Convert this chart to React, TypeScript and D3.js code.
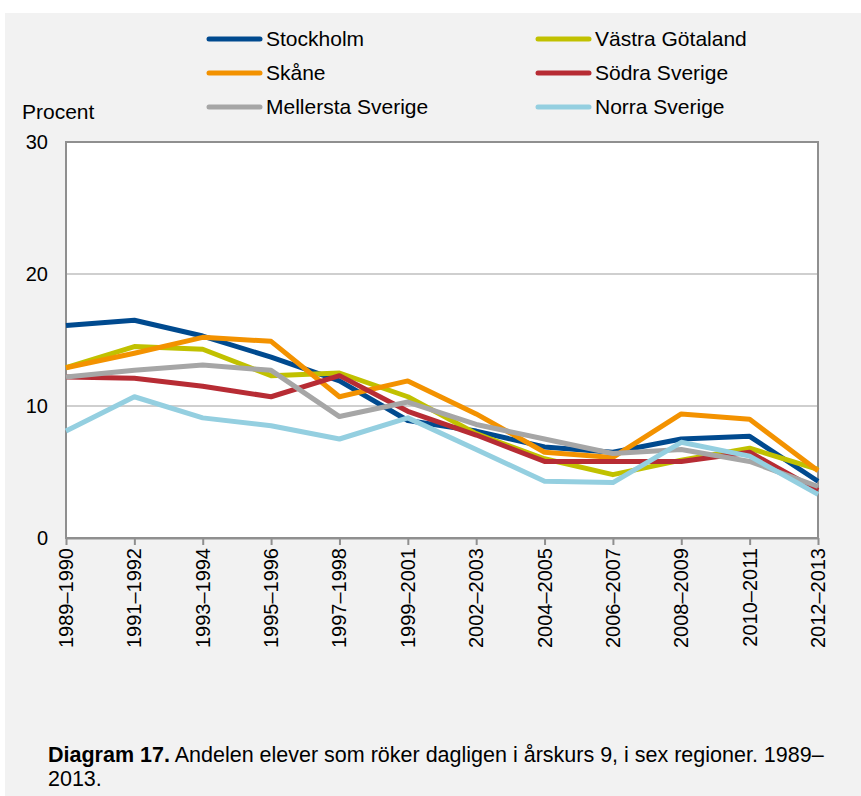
import React, { useEffect, useRef } from "react";
import * as d3 from "d3";

const periods = [
  "1989–1990", "1991–1992", "1993–1994", "1995–1996", "1997–1998", "1999–2001",
  "2002–2003", "2004–2005", "2006–2007", "2008–2009", "2010–2011", "2012–2013",
];

const regions = ["Stockholm", "Västra Götaland", "Skåne", "Södra Sverige", "Mellersta Sverige", "Norra Sverige"];
const colors = ["#004a8f", "#c1c100", "#f39200", "#b72c34", "#a6a6a6", "#94cfe0"];

const stockholm = [16.1, 16.5, 15.3, 13.7, 11.9, 8.9, 8.1, 6.9, 6.5, 7.5, 7.7, 4.3];
const vastraGotaland = [12.9, 14.5, 14.3, 12.3, 12.5, 10.7, 7.9, 6.0, 4.8, 5.9, 6.8, 5.2];
const skane = [12.9, 14.0, 15.2, 14.9, 10.7, 11.9, 9.4, 6.5, 6.1, 9.4, 9.0, 5.1];
const sodraSverige = [12.2, 12.1, 11.5, 10.7, 12.3, 9.6, 7.8, 5.8, 5.8, 5.8, 6.5, 3.6];
const mellerstaSverige = [12.2, 12.7, 13.1, 12.7, 9.2, 10.3, 8.6, 7.5, 6.4, 6.7, 5.8, 3.9];
const norraSverige = [8.1, 10.7, 9.1, 8.5, 7.5, 9.1, 6.7, 4.3, 4.2, 7.25, 6.2, 3.3];

const yTicks = [0, 10, 20, 30];

const FONT = "Arial, 'Liberation Sans', sans-serif";

export default function App() {
  const ref = useRef<SVGSVGElement>(null);

  useEffect(() => {
    const width = 861;
    const height = 796;
    const margin = { top: 142, right: 43, bottom: 258, left: 66 };
    const innerWidth = width - margin.left - margin.right;
    const innerHeight = height - margin.top - margin.bottom;

    const svg = d3.select(ref.current);
    svg.selectAll("*").remove();

    // background panel
    svg.append("rect")
      .attr("x", 5).attr("y", 13)
      .attr("width", width - 5).attr("height", height - 13)
      .attr("fill", "#f2f2f2");

    const series = [stockholm, vastraGotaland, skane, sodraSverige, mellerstaSverige, norraSverige];

    const xScale = d3.scalePoint<string>().domain(periods).range([0, innerWidth]);
    const yScale = d3.scaleLinear().domain([0, 30]).range([innerHeight, 0]);

    const g = svg.append("g").attr("transform", `translate(${margin.left},${margin.top})`);

    // plot area
    g.append("rect")
      .attr("width", innerWidth).attr("height", innerHeight)
      .attr("fill", "#ffffff");

    // gridlines
    g.selectAll(".grid")
      .data(yTicks.filter(t => t > 0 && t < 30))
      .enter()
      .append("line")
      .attr("x1", 0).attr("x2", innerWidth)
      .attr("y1", d => yScale(d)).attr("y2", d => yScale(d))
      .attr("stroke", "#bfbfbf")
      .attr("stroke-width", 1.5);

    // border
    g.append("rect")
      .attr("width", innerWidth).attr("height", innerHeight)
      .attr("fill", "none")
      .attr("stroke", "#8f8f8f")
      .attr("stroke-width", 2);

    // x axis
    const xAxis = d3.axisBottom(xScale).tickSize(7).tickSizeOuter(0).tickFormat(() => "");
    const xg = g.append("g").attr("transform", `translate(0,${innerHeight})`).call(xAxis);
    xg.select(".domain").attr("stroke", "#8f8f8f").attr("stroke-width", 2);
    xg.selectAll(".tick line").attr("stroke", "#8f8f8f").attr("stroke-width", 2);

    g.selectAll(".xlabel")
      .data(periods)
      .enter()
      .append("text")
      .attr("transform", d => `translate(${xScale(d)},${innerHeight + 10}) rotate(-90)`)
      .attr("text-anchor", "end")
      .attr("dy", "0.35em")
      .style("font-family", FONT)
      .style("font-size", "20px")
      .attr("fill", "#000")
      .text(d => d);

    // y labels
    g.selectAll(".ylabel")
      .data(yTicks)
      .enter()
      .append("text")
      .attr("x", -18)
      .attr("y", d => yScale(d))
      .attr("dy", "0.35em")
      .attr("text-anchor", "end")
      .style("font-family", FONT)
      .style("font-size", "20px")
      .attr("fill", "#000")
      .text(d => d);

    // lines
    const line = d3.line<number>()
      .x((_, i) => xScale(periods[i]) as number)
      .y(d => yScale(d));

    series.forEach((s, i) => {
      g.append("path")
        .datum(s)
        .attr("d", line)
        .attr("fill", "none")
        .attr("stroke", colors[i])
        .attr("stroke-width", 5)
        .attr("stroke-linejoin", "round");
    });

    // legend
    const legendCols = [207, 536];
    const legendRows = [39, 73, 107];
    regions.forEach((r, i) => {
      const lx = legendCols[i % 2];
      const ly = legendRows[Math.floor(i / 2)];
      svg.append("line")
        .attr("x1", lx + 2).attr("x2", lx + 53)
        .attr("y1", ly).attr("y2", ly)
        .attr("stroke", colors[i])
        .attr("stroke-width", 5)
        .attr("stroke-linecap", "round");
      svg.append("text")
        .attr("x", lx + 59)
        .attr("y", ly + 7)
        .style("font-family", FONT)
        .style("font-size", "21px")
        .attr("fill", "#000")
        .text(r);
    });

    svg.append("text")
      .attr("x", 22).attr("y", 119)
      .style("font-family", FONT)
      .style("font-size", "21px")
      .attr("fill", "#000")
      .text("Procent");

    // caption
    const cap = svg.append("text")
      .attr("x", 48).attr("y", 762)
      .style("font-family", FONT)
      .style("font-size", "21.5px")
      .attr("fill", "#000");
    cap.append("tspan").style("font-weight", "bold").text("Diagram 17.");
    cap.append("tspan").text(" Andelen elever som röker dagligen i årskurs 9, i sex regioner. 1989–");
    svg.append("text")
      .attr("x", 48).attr("y", 786)
      .style("font-family", FONT)
      .style("font-size", "21.5px")
      .attr("fill", "#000")
      .text("2013.");
  }, []);

  return (
    <div style={{ position: "absolute", left: 0, top: 0 }}>
      <svg ref={ref} width={861} height={796} style={{ display: "block" }}></svg>
    </div>
  );
}
